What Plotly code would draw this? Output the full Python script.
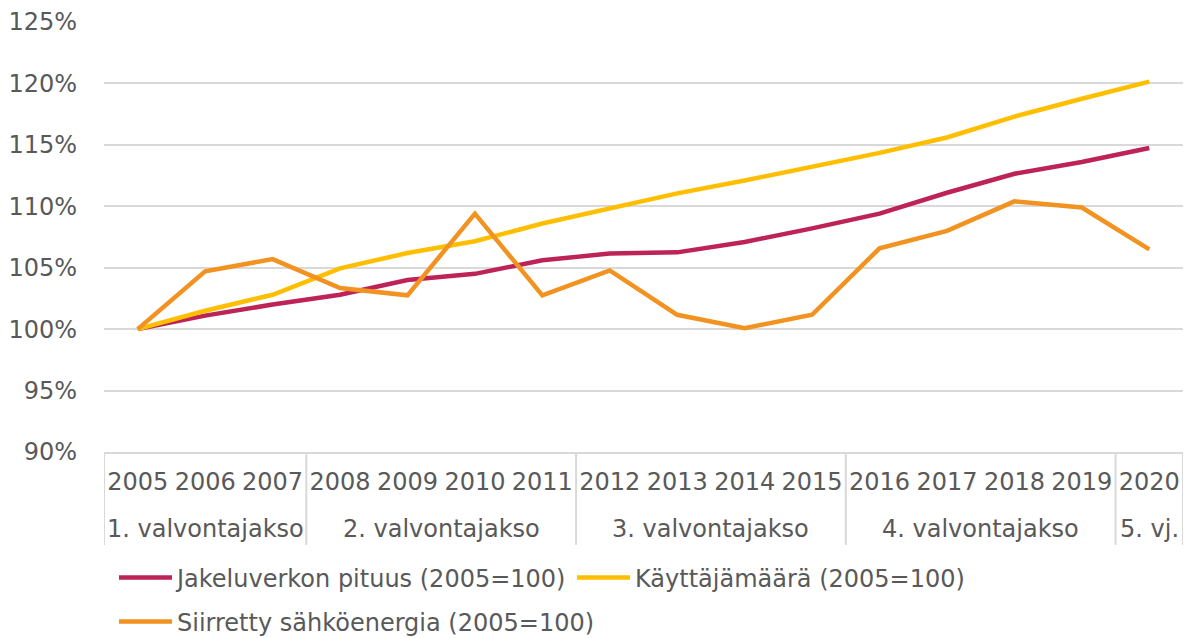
import plotly.graph_objects as go

years = ["2005", "2006", "2007", "2008", "2009", "2010", "2011", "2012",
         "2013", "2014", "2015", "2016", "2017", "2018", "2019", "2020"]
periods = ["1. valvontajakso"] * 3 + ["2. valvontajakso"] * 4 + \
          ["3. valvontajakso"] * 4 + ["4. valvontajakso"] * 4 + ["5. vj."]

jakeluverkko = [100.0, 101.1, 102.0, 102.8, 104.0, 104.5, 105.6, 106.15,
                106.25, 107.1, 108.2, 109.4, 111.1, 112.65, 113.6, 114.75]
kayttajat = [100.0, 101.5, 102.8, 104.95, 106.2, 107.15, 108.6, 109.8,
             111.05, 112.1, 113.2, 114.35, 115.6, 117.3, 118.75, 120.15]
energia = [100.0, 104.7, 105.7, 103.35, 102.75, 109.4, 102.75, 104.78,
           101.17, 100.08, 101.17, 106.58, 108.0, 110.4, 109.9, 106.5]

names = ["Jakeluverkon pituus (2005=100)", "Käyttäjämäärä (2005=100)",
         "Siirretty sähköenergia (2005=100)"]
colors = ["#BE2357", "#FFBF00", "#F29220"]
series = [jakeluverkko, kayttajat, energia]
legends = ["legend", "legend2", "legend3"]

FONT = "DejaVu Sans"
FS = 24
TXT = "#595959"
GRID = "#D9D9D9"

fig = go.Figure()
for name, col, vals, lg in zip(names, colors, series, legends):
    fig.add_trace(go.Scatter(
        x=years, y=vals, name=name, mode="lines",
        line=dict(color=col, width=4.5), legend=lg))

# group boundaries and centres derived from the period list
groups = []
start = 0
for i in range(1, len(periods) + 1):
    if i == len(periods) or periods[i] != periods[start]:
        groups.append((periods[start], start, i - 1))
        start = i

DIV_BOTTOM = -0.216
for label, a, b in groups:
    fig.add_annotation(x=(a + b) / 2, xref="x", y=-0.179, yref="paper",
                       text=label, showarrow=False, yanchor="middle",
                       font=dict(family=FONT, size=FS, color=TXT))
boundaries = [-0.5] + [b + 0.5 for _, _, b in groups]
for bx in boundaries:
    fig.add_shape(type="line", xref="x", yref="paper", x0=bx, x1=bx,
                  y0=0, y1=DIV_BOTTOM, line=dict(color=GRID, width=2))

legend_common = dict(orientation="h", xref="container", yref="container",
                     xanchor="left", yanchor="middle", itemwidth=53,
                     font=dict(family=FONT, size=FS, color=TXT),
                     bgcolor="rgba(0,0,0,0)")

fig.update_layout(
    width=1190, height=638,
    margin=dict(l=104, r=7, t=22, b=186),
    plot_bgcolor="white", paper_bgcolor="white",
    font=dict(family=FONT, size=FS, color=TXT),
    showlegend=True,
    legend=dict(x=114 / 1190, y=1 - 578 / 638, **legend_common),
    legend2=dict(x=572 / 1190, y=1 - 578 / 638, **legend_common),
    legend3=dict(x=114 / 1190, y=1 - 622 / 638, **legend_common),
    xaxis=dict(
        type="category", range=[-0.5, len(years) - 0.5],
        showgrid=False, showline=True, automargin=False,
        linecolor=GRID, linewidth=2, ticks="", ticklabelstandoff=7,
        tickfont=dict(family=FONT, size=FS, color=TXT),
    ),
    yaxis=dict(
        range=[90, 125], dtick=5, ticksuffix="%", showgrid=True,
        gridcolor=GRID, gridwidth=2, zeroline=False, showline=False,
        ticks="", ticklabelstandoff=26, automargin=False,
        tickfont=dict(family=FONT, size=FS, color=TXT),
    ),
)

fig.write_html("out.html",
               config={"displayModeBar": False},
               post_script="document.body.style.margin='0';")
